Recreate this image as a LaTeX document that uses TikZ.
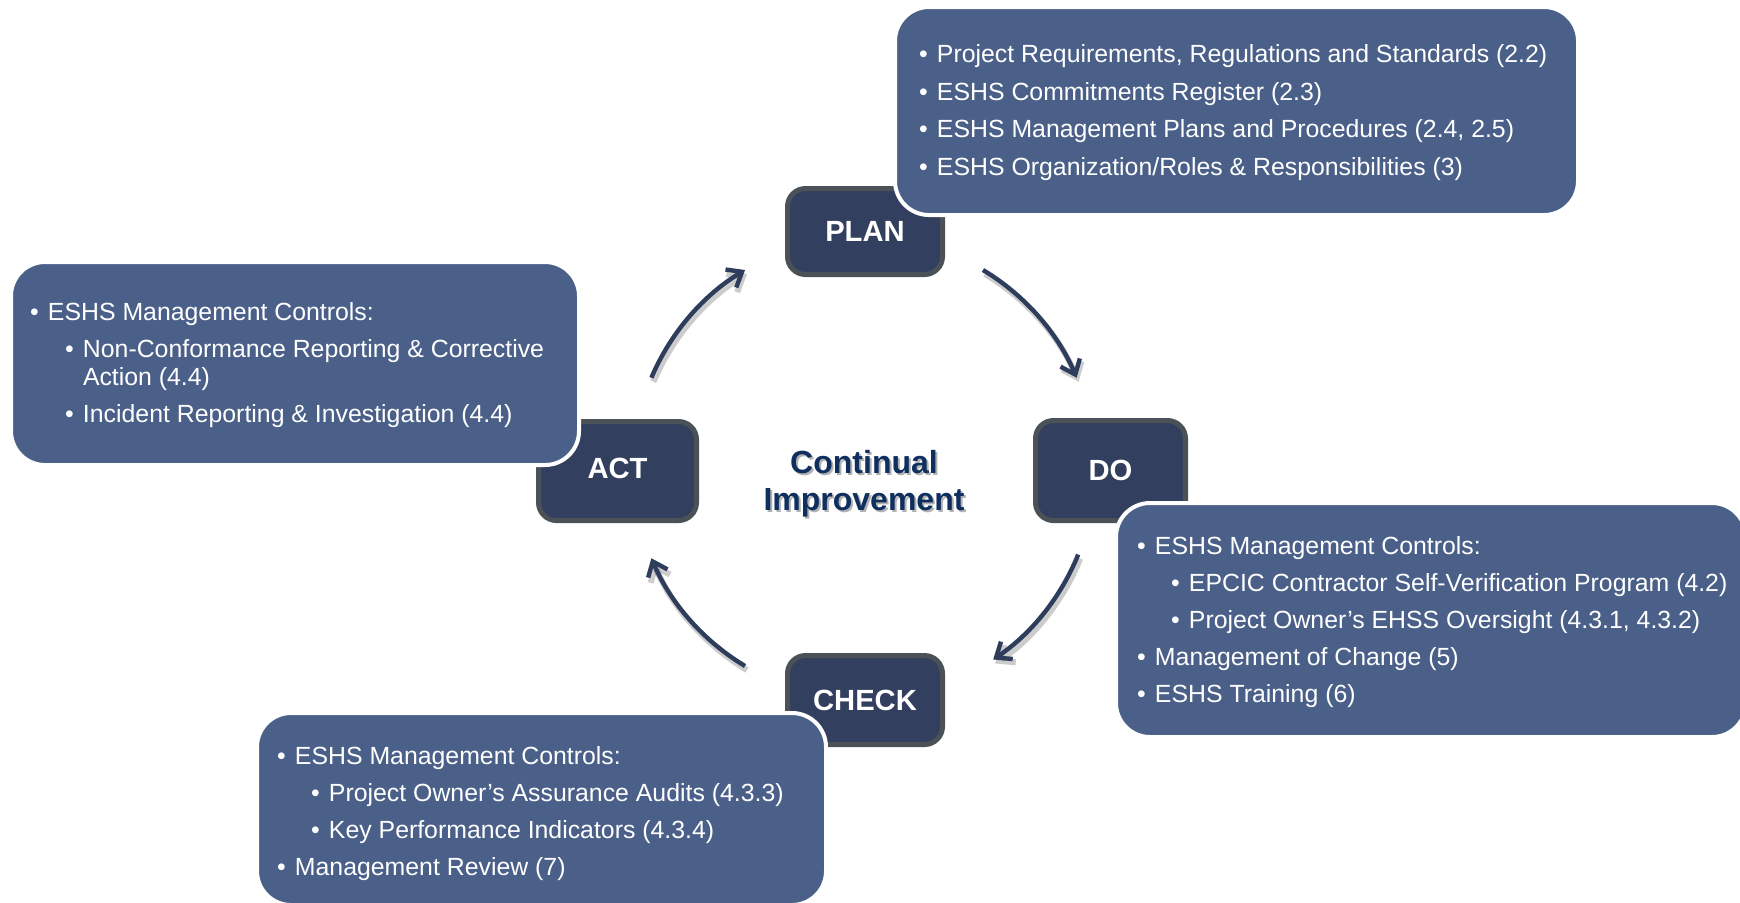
\documentclass[tikz,border=0pt]{standalone}
\usepackage{fontspec}
\setmainfont{Liberation Sans}
\usetikzlibrary{arrows.meta}

\definecolor{stagefill}{HTML}{323F5E}
\definecolor{stageedge}{HTML}{4B5257}
\definecolor{infofill}{HTML}{4A6089}
\definecolor{arrowcol}{HTML}{2F3D5C}
\definecolor{titlecol}{HTML}{0F2F5F}

% bullet followed by its text, hanging in a fixed-width slot
\newcommand\bitem[1]{\makebox[9pt][l]{\textbullet}#1}

\begin{document}
\begin{tikzpicture}[x=0.5pt,y=-0.5pt,
  stage/.style={rectangle, rounded corners=9pt, fill=stagefill, draw=stageedge,
    line width=2.5pt, text=white, inner sep=0pt,
    font=\fontsize{14.6}{17}\selectfont\bfseries},
  infobox/.style={rectangle, rounded corners=17pt, fill=infofill, draw=white,
    line width=2pt, inner sep=0pt},
  itemtext/.style={anchor=base west, text=white, inner sep=0pt, outer sep=0pt,
    font=\fontsize{12.42}{14}\selectfont},
  cyctip/.style={-{Straight Barb[length=6.5pt,width=10.5pt]}},
  cycarrow/.style={cyctip, draw=arrowcol, line width=2.2pt},
  cycshadow/.style={cyctip, draw=black, draw opacity=0.2, line width=3pt},
  citext/.style={anchor=base, inner sep=0pt, font=\fontsize{16}{18}\selectfont\bfseries},
]
\useasboundingbox (0,0) rectangle (1740,902);

% ---- the four stages of the cycle ----
\node[stage, minimum width=77.5pt, minimum height=43pt]   (plan)  at (865,231.5)  {PLAN};
\node[stage, minimum width=75pt,   minimum height=50pt]   (do)    at (1110.5,470.5) {DO};
\node[stage, minimum width=77.5pt, minimum height=44.5pt] (check) at (865,700)    {CHECK};
\node[stage, minimum width=79pt,   minimum height=49.5pt] (act)   at (617.5,471)  {\raisebox{2.5pt}{ACT}};

% ---- centre caption ----
\coordinate (ctr) at (864,468);
\node[citext, text=black, opacity=0.3] (cishA) at (866,475.5) {Continual};
\node[citext, text=black, opacity=0.3] (cishB) at (866,512.5) {Improvement};
\node[citext, text=titlecol] (ciA) at (864,473) {Continual};
\node[citext, text=titlecol] (ciB) at (864,510) {Improvement};

% ---- cycle arrows (arcs around the caption) ----
\path (ctr) ++(-157:231) coordinate (ar1);
\path (ctr) ++(-59:231)  coordinate (ar2);
\path (ctr) ++(22:231)   coordinate (ar3);
\path (ctr) ++(121:231)  coordinate (ar4);

\draw[cycshadow] ([shift={(2,4)}]ar1) arc[start angle=157, end angle=121, radius=115.5pt];
\draw[cycshadow] ([shift={(2,4)}]ar2) arc[start angle=59,  end angle=23,  radius=115.5pt];
\draw[cycshadow] ([shift={(2,4)}]ar3) arc[start angle=-22, end angle=-56, radius=115.5pt];
\draw[cycshadow] ([shift={(2,4)}]ar4) arc[start angle=-121,end angle=-157,radius=115.5pt];

\draw[cycarrow] (ar1) arc[start angle=157, end angle=121, radius=115.5pt];
\draw[cycarrow] (ar2) arc[start angle=59,  end angle=23,  radius=115.5pt];
\draw[cycarrow] (ar3) arc[start angle=-22, end angle=-56, radius=115.5pt];
\draw[cycarrow] (ar4) arc[start angle=-121,end angle=-157,radius=115.5pt];

% ---- PLAN details ----
\node[infobox, minimum width=341.5pt, minimum height=104pt] (plantxt) at (1236.5,111) {};
\node[itemtext] (p1) at (919,62)    {\bitem{Project Requirements, Regulations and Standards (2.2)}};
\node[itemtext] (p2) at (919,100)   {\bitem{ESHS Commitments Register (2.3)}};
\node[itemtext] (p3) at (919,137.5) {\bitem{ESHS Management Plans and Procedures (2.4, 2.5)}};
\node[itemtext] (p4) at (919,175)   {\bitem{ESHS Organization/Roles \& Responsibilities (3)}};

% ---- ACT details ----
\node[infobox, minimum width=284pt, minimum height=101.5pt] (acttxt) at (295,363.5) {};
\node[itemtext] (a1) at (30,320)  {\bitem{ESHS Management Controls:}};
\node[itemtext] (a2) at (65,357)  {\bitem{Non-Conformance Reporting \& Corrective}};
\node[itemtext] (a3) at (83,385)  {Action (4.4)};
\node[itemtext] (a4) at (65,422)  {\bitem{Incident Reporting \& Investigation (4.4)}};

% ---- DO details ----
\node[infobox, minimum width=315pt, minimum height=117pt] (dotxt) at (1431,620) {};
\node[itemtext] (d1) at (1137,554) {\bitem{ESHS Management Controls:}};
\node[itemtext] (d2) at (1171,591) {\bitem{EPCIC Contractor Self-Verification Program (4.2)}};
\node[itemtext] (d3) at (1171,628) {\bitem{Project Owner’s EHSS Oversight (4.3.1, 4.3.2)}};
\node[itemtext] (d4) at (1137,665) {\bitem{Management of Change (5)}};
\node[itemtext] (d5) at (1137,702) {\bitem{ESHS Training (6)}};

% ---- CHECK details ----
\node[infobox, minimum width=284.5pt, minimum height=96pt] (checktxt) at (541.5,809) {};
\node[itemtext] (c1) at (277,764) {\bitem{ESHS Management Controls:}};
\node[itemtext] (c2) at (311,801) {\bitem{Project Owner’s Assurance Audits (4.3.3)}};
\node[itemtext] (c3) at (311,838) {\bitem{Key Performance Indicators (4.3.4)}};
\node[itemtext] (c4) at (277,875) {\bitem{Management Review (7)}};
\end{tikzpicture}
\end{document}
